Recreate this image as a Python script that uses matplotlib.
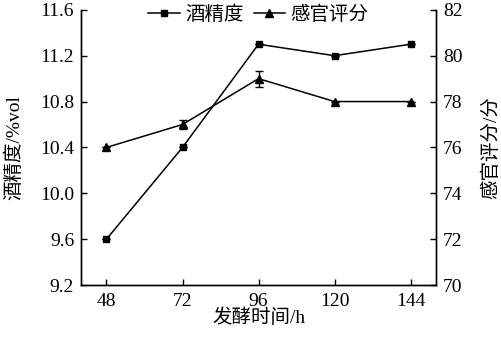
import matplotlib
matplotlib.use("Agg")
import matplotlib.pyplot as plt

plt.rcParams['font.family'] = ['Liberation Serif', 'Noto Sans CJK SC']
plt.rcParams['font.size'] = 14

# data
hours = [48, 72, 96, 120, 144]
alcohol = [9.6, 10.4, 11.3, 11.2, 11.3]
alcohol_err = [0.0, 0.0, 0.0, 0.0, 0.0]
sensory = [76, 77, 79, 78, 78]
sensory_err = [0.0, 0.2, 0.35, 0.0, 0.0]

fig = plt.figure(figsize=(5.01, 3.51), dpi=100)
ax = fig.add_axes([0.162, 0.188, 0.708, 0.784])
ax2 = ax.twinx()

l1, = ax.plot(hours, alcohol, color='black', marker='s', markersize=5, linewidth=1.1,
              label='酒精度')
ax.errorbar(hours, alcohol, yerr=alcohol_err, fmt='none', ecolor='black', capsize=3, linewidth=1)
l2, = ax2.plot(hours, sensory, color='black', marker='^', markersize=6, linewidth=1.1,
               label='感官评分')
ax2.errorbar(hours, sensory, yerr=sensory_err, fmt='none', ecolor='black', capsize=3, linewidth=1)

ax.set_xlim(40, 152)
ax.set_ylim(9.2, 11.6)
ax.set_yticks([9.2, 9.6, 10.0, 10.4, 10.8, 11.2, 11.6])
ax.set_yticklabels(['9.2', '9.6', '10.0', '10.4', '10.8', '11.2', '11.6'])
ax.set_xticks(hours)
ax2.set_ylim(70, 82)
ax2.set_yticks([70, 72, 74, 76, 78, 80, 82])

for a in (ax, ax2):
    a.spines['top'].set_visible(False)
    a.tick_params(direction='in', length=4, width=1, labelsize=14, pad=5)
    for s in a.spines.values():
        s.set_linewidth(1)
ax.tick_params(axis='x', pad=6)

ax.set_xlabel('发酵时间/h', fontsize=14, labelpad=-1)
ax.set_ylabel('酒精度/%vol', fontsize=14, labelpad=12)
ax2.set_ylabel('感官评分/分', fontsize=14, labelpad=14)

ax.legend(handles=[l1, l2], loc='upper center', bbox_to_anchor=(0.5, 1.045), ncol=2,
          frameon=False, fontsize=14, handlelength=1.6, columnspacing=0.5,
          handletextpad=0.3, borderaxespad=0)

fig.savefig('out.png', dpi=100)
